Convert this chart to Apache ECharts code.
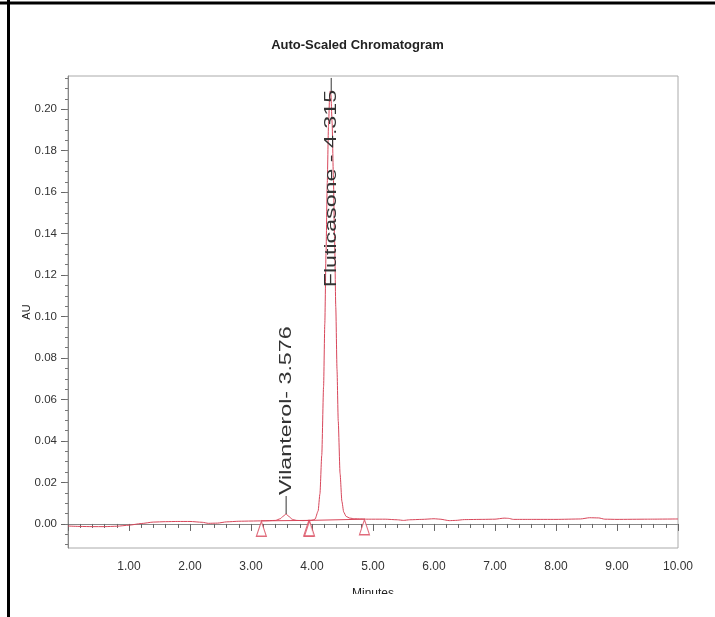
<!DOCTYPE html>
<html>
<head>
<meta charset="utf-8">
<title>Auto-Scaled Chromatogram</title>
<script src="https://cdn.jsdelivr.net/npm/echarts@6.0.0/dist/echarts.min.js"></script>
<style>
    html, body { margin: 0; padding: 0; background: #fff; }
    #chart { width: 715px; height: 617px; }
</style>
</head>
<body>
<div id="chart"></div>
<script>
// detector trace: minutes / AU
const times = [0.00, 0.20, 0.40, 0.60, 0.80, 1.00, 1.20, 1.40, 1.60, 1.80,
    2.00, 2.20, 2.30, 2.45, 2.60, 2.80, 3.00, 3.20, 3.40, 3.48,
    3.53, 3.576, 3.62, 3.68, 3.75, 3.85, 3.95, 4.00, 4.05, 4.10,
    4.13, 4.16, 4.19, 4.21, 4.23, 4.25, 4.27, 4.29, 4.30, 4.31,
    4.33, 4.35, 4.37, 4.39, 4.41, 4.43, 4.46, 4.49, 4.52, 4.56,
    4.62, 4.70, 4.80, 4.90, 5.00, 5.20, 5.40, 5.50, 5.60, 5.80,
    6.00, 6.10, 6.25, 6.35, 6.50, 6.80, 7.00, 7.15, 7.22, 7.30,
    7.60, 8.00, 8.40, 8.55, 8.70, 8.80, 9.00, 9.50, 10.00];
const absorbance = [-0.0010, -0.0012, -0.0013, -0.0013, -0.0011, -0.0006, 0.0002, 0.0009, 0.0011, 0.0012,
    0.0012, 0.0008, 0.0003, 0.0004, 0.0010, 0.0013, 0.0014, 0.0015, 0.0017, 0.0025,
    0.0038, 0.0048, 0.0036, 0.0022, 0.0017, 0.0016, 0.0017, 0.0018, 0.0023, 0.0062,
    0.0145, 0.0331, 0.0663, 0.0966, 0.1308, 0.1645, 0.1916, 0.2068, 0.2088, 0.2070,
    0.1933, 0.1685, 0.1373, 0.1045, 0.0745, 0.0497, 0.0244, 0.0109, 0.0057, 0.0036,
    0.0028, 0.0025, 0.0024, 0.0023, 0.0023, 0.0023, 0.0020, 0.0017, 0.0020, 0.0022,
    0.0025, 0.0023, 0.0016, 0.0017, 0.0021, 0.0022, 0.0023, 0.0028, 0.0027, 0.0022,
    0.0022, 0.0022, 0.0024, 0.0030, 0.0029, 0.0023, 0.0022, 0.0023, 0.0024];

// named peaks
const peakLabels = ['Vilanterol- 3.576', 'Fluticasone - 4.315'];
const peakTimes = [3.576, 4.315];
const peakHeights = [0.0048, 0.2088];

// integration start / end marks and the drawn baseline between them
const markTimes = [3.17, 3.945, 3.96, 4.86];
const markValues = [0.0015, 0.0017, 0.0017, 0.0023];

// y axis tick labels
const yTicks = [0, 0.02, 0.04, 0.06, 0.08, 0.10, 0.12, 0.14, 0.16, 0.18, 0.20];

const yMin = -0.0116, yMax = 0.216;
let yMinor = [];
for (let i = -2; i <= 43; i++) {
    yMinor.push(+(i * 0.005).toFixed(3));
}

const red = '#d8465a';
const font = '"Liberation Sans", Arial, sans-serif';

let trace = times.map((t, i) => [t, absorbance[i]]);
let marks = markTimes.map((t, i) => [t, markValues[i]]);
let peaks = peakTimes.map((t, i) => [t, peakHeights[i]]);

// label with a short stem; when there is no room above the apex the text hangs below it
function renderPeakLabel(params, api) {
    let p = api.coord([api.value(0), api.value(1)]);
    let inside = (p[1] - params.coordSys.y) < 150;
    let stem = inside ? 13 : 18;
    return {
        type: 'group',
        children: [{
            type: 'line',
            shape: { x1: p[0], y1: p[1], x2: p[0], y2: p[1] - stem },
            style: { stroke: '#333', lineWidth: 1 }
        }, {
            type: 'text',
            x: p[0],
            y: inside ? p[1] - 1 : p[1] - stem - 1,
            rotation: Math.PI / 2,
            scaleX: 1.45,
            style: {
                text: peakLabels[params.dataIndex],
                fill: '#333',
                fontSize: 16,
                fontFamily: font,
                align: inside ? 'right' : 'left',
                verticalAlign: 'middle'
            }
        }]
    };
}

let myChart = echarts.init(document.getElementById('chart'), null, { renderer: 'canvas' });
myChart.setOption({
    animation: false,
    backgroundColor: '#fff',
    title: {
        text: 'Auto-Scaled Chromatogram',
        left: 'center',
        top: 34,
        textStyle: { fontSize: 13, fontWeight: 'bold', fontFamily: font, color: '#222' }
    },
    grid: {
        left: 68, right: 37, top: 76, bottom: 69,
        show: true, borderColor: '#aaa', borderWidth: 1,
        outerBoundsMode: 'none'
    },
    xAxis: {
        type: 'value',
        min: 0, max: 10, interval: 1,
        name: 'Minutes',
        nameLocation: 'middle',
        nameGap: 40,
        nameMoveOverlap: false,
        nameTextStyle: { fontSize: 12, fontFamily: font, color: '#222' },
        axisLine: { show: true, lineStyle: { color: '#888' } },
        axisTick: { show: true, length: 7, lineStyle: { color: '#666' } },
        minorTick: { show: true, splitNumber: 5, length: 4, lineStyle: { color: '#666' } },
        splitLine: { show: false },
        axisLabel: {
            margin: 13, fontSize: 12, fontFamily: font, color: '#333',
            formatter: v => v === 0 ? '' : v.toFixed(2)
        }
    },
    yAxis: [{
        type: 'value',
        min: yMin, max: yMax,
        name: 'AU',
        nameLocation: 'middle',
        nameGap: 36,
        nameMoveOverlap: false,
        nameTextStyle: { fontSize: 11, fontFamily: font, color: '#222' },
        axisLine: { show: true, lineStyle: { color: '#888' } },
        axisTick: { show: true, length: 7, customValues: yTicks, lineStyle: { color: '#666' } },
        splitLine: { show: false },
        axisLabel: {
            margin: 11, fontSize: 11.5, fontFamily: font, color: '#333',
            customValues: yTicks,
            formatter: v => v.toFixed(2)
        }
    }, {
        type: 'value',
        min: yMin, max: yMax,
        position: 'left',
        axisLine: { show: false },
        axisTick: { show: true, length: 3, customValues: yMinor, lineStyle: { color: '#777' } },
        axisLabel: { show: false },
        splitLine: { show: false }
    }],
    series: [{
        name: 'trace',
        type: 'line',
        data: trace,
        showSymbol: false,
        smooth: 0.2,
        smoothMonotone: 'x',
        lineStyle: { color: red, width: 1 },
        z: 3
    }, {
        name: 'baseline',
        type: 'line',
        data: marks,
        showSymbol: false,
        lineStyle: { color: red, width: 1 },
        z: 3
    }, {
        name: 'marks',
        type: 'scatter',
        data: marks,
        symbol: 'triangle',
        symbolSize: [10, 15],
        symbolOffset: [0, 8],
        itemStyle: { color: '#fff', borderColor: red, borderWidth: 1.2 },
        z: 4
    }, {
        name: 'peaks',
        type: 'custom',
        data: peaks,
        encode: { x: 0, y: 1 },
        renderItem: renderPeakLabel,
        clip: false,
        z: 5
    }],
    graphic: [
        // image frame: heavy rule on top and at the left, cropped bottom
        { type: 'rect', shape: { x: 10, y: 594, width: 705, height: 23 }, style: { fill: '#fff' }, z: 100 },
        { type: 'rect', shape: { x: 0, y: 1.5, width: 715, height: 3 }, style: { fill: '#000' }, z: 101 },
        { type: 'rect', shape: { x: 7, y: 0, width: 3, height: 617 }, style: { fill: '#000' }, z: 101 }
    ]
});
</script>
</body>
</html>
